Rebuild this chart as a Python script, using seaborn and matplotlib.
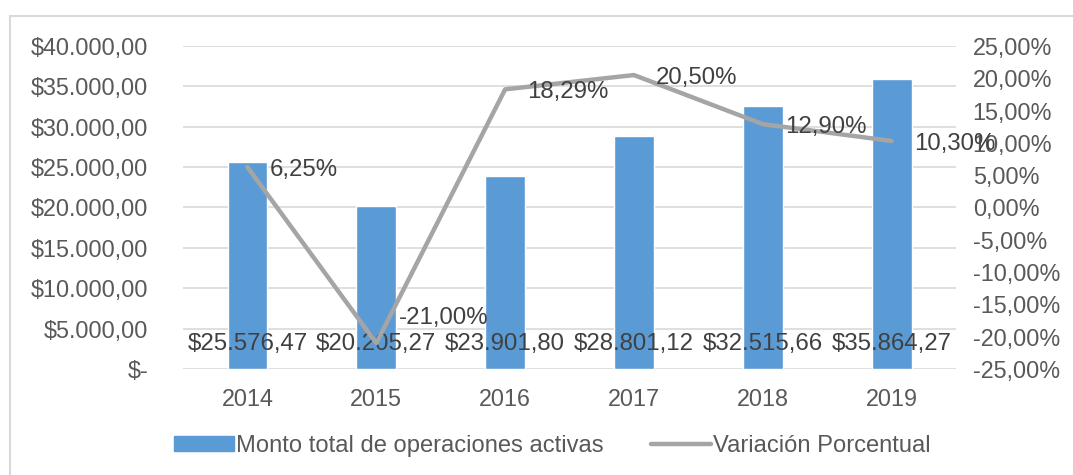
import numpy as np
import pandas as pd
import matplotlib
matplotlib.use('Agg')
import matplotlib.pyplot as plt
import matplotlib.patches as mpatches
from matplotlib.lines import Line2D
from matplotlib.ticker import FuncFormatter, MultipleLocator
import seaborn as sns

years = ['2014', '2015', '2016', '2017', '2018', '2019']
monto = [25576.47, 20205.27, 23901.80, 28801.12, 32515.66, 35864.27]
variacion = [6.25, -21.00, 18.29, 20.50, 12.90, 10.30]

bar_color = '#5B9BD5'
line_color = '#A5A5A5'
tick_color = '#595959'
label_color = '#404040'
fs = 16.8

sns.set_style('white')
plt.rcParams['font.family'] = ['Liberation Sans', 'DejaVu Sans']


def fmt_money(v, pos=None):
    if abs(v) < 1e-9:
        return '$-'
    s = f'{v:,.2f}'.replace(',', 'X').replace('.', ',').replace('X', '.')
    return '$' + s


def fmt_pct(v, pos=None):
    return f'{v:.2f}%'.replace('.', ',')


df = pd.DataFrame({'year': years, 'monto': monto, 'var': variacion})

fig = plt.figure(figsize=(10.73, 4.75), dpi=100)
ax = fig.add_axes([0.1706, 0.2232, 0.7204, 0.68])

sns.barplot(data=df, x='year', y='monto', color=bar_color, width=0.31,
            saturation=1, ax=ax)
ax.set_ylim(0, 40000)
ax.yaxis.set_major_locator(MultipleLocator(5000))
ax.yaxis.set_major_formatter(FuncFormatter(fmt_money))
ax.grid(axis='y', color='#D9D9D9', linewidth=1.2)
ax.set_axisbelow(True)
ax.set_xlabel('')
ax.set_ylabel('')
for s in ax.spines.values():
    s.set_visible(False)
ax.tick_params(axis='y', length=0, pad=25, labelsize=fs, labelcolor=tick_color)
ax.tick_params(axis='x', length=0, pad=14, labelsize=fs, labelcolor=tick_color)

ax2 = ax.twinx()
sns.lineplot(x=np.arange(len(years)), y=variacion, color=line_color,
             linewidth=3.2, ax=ax2)
ax2.set_ylim(-25, 25)
ax2.yaxis.set_major_locator(MultipleLocator(5))
ax2.yaxis.set_major_formatter(FuncFormatter(fmt_pct))
for s in ax2.spines.values():
    s.set_visible(False)
ax2.tick_params(axis='y', length=0, pad=12, labelsize=fs, labelcolor=tick_color)
ax2.set_xlim(-0.5, len(years) - 0.5)

# bar value labels near base
for i, v in enumerate(monto):
    ax.annotate(fmt_money(v), (i, 0), xytext=(0, 18), textcoords='offset points',
                ha='center', va='center', fontsize=17.3, color=label_color)

# line value labels
for i, v in enumerate(variacion):
    dy = 18 if v < 0 else -2
    ax2.annotate(fmt_pct(v), (i, v), xytext=(16, dy), textcoords='offset points',
                 ha='left', va='center', fontsize=17.3, color=label_color)

handles = [mpatches.Patch(color=bar_color),
           Line2D([0], [0], color=line_color, linewidth=3.2)]
leg = fig.legend(handles, ['Monto total de operaciones activas', 'Variación Porcentual'],
                 loc='center', bbox_to_anchor=(0.515, 0.061), ncol=2, frameon=False,
                 fontsize=17.1, handlelength=2.5, handleheight=0.6, handletextpad=0.1,
                 columnspacing=2.0)
for t in leg.get_texts():
    t.set_color(tick_color)

fig.patches.append(mpatches.Rectangle((10 / 1073, -0.1), 1.2, 1.1 - 16 / 475,
                                      transform=fig.transFigure, fill=False,
                                      edgecolor='#D9D9D9', linewidth=1.5))

fig.savefig('out.png', dpi=100)
